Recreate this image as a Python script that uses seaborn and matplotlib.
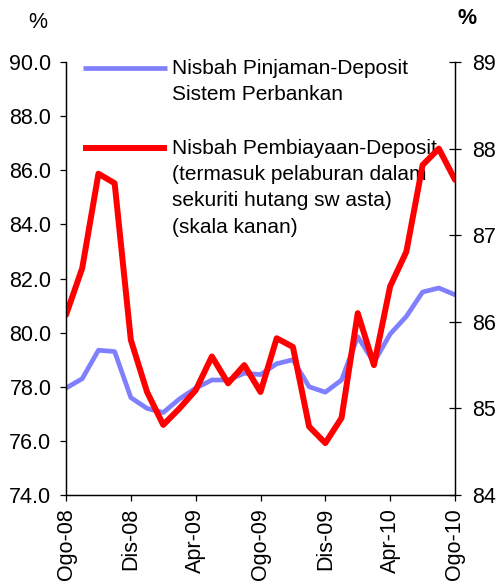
#%% Nisbah pinjaman-deposit vs nisbah pembiayaan-deposit
import numpy as np
import pandas as pd
import seaborn as sns
import matplotlib.pyplot as plt
from matplotlib.legend_handler import HandlerLine2D

#%% Data (bulanan, Ogo-08 hingga Ogo-10)
bulan = ['Ogo-08', 'Sep-08', 'Okt-08', 'Nov-08', 'Dis-08', 'Jan-09', 'Feb-09',
         'Mac-09', 'Apr-09', 'Mei-09', 'Jun-09', 'Jul-09', 'Ogo-09', 'Sep-09',
         'Okt-09', 'Nov-09', 'Dis-09', 'Jan-10', 'Feb-10', 'Mac-10', 'Apr-10',
         'Mei-10', 'Jun-10', 'Jul-10', 'Ogo-10']

# nisbah pinjaman-deposit (skala kiri)
pinjaman = [77.95, 78.3, 79.35, 79.3, 77.6, 77.2, 77.05, 77.55, 77.95, 78.25,
            78.25, 78.5, 78.45, 78.85, 79.0, 78.0, 77.8, 78.25, 79.85, 78.9,
            79.95, 80.6, 81.5, 81.65, 81.4]

# nisbah pembiayaan-deposit (skala kanan)
pembiayaan = [86.08, 86.62, 87.71, 87.6, 85.79, 85.19, 84.81, 85.0, 85.21,
              85.6, 85.29, 85.5, 85.19, 85.81, 85.71, 84.79, 84.6, 84.89,
              86.1, 85.5, 86.41, 86.81, 87.81, 88.0, 87.64]

label_pinjaman = 'Nisbah Pinjaman-Deposit\nSistem Perbankan'
label_pembiayaan = ('Nisbah Pembiayaan-Deposit\n(termasuk pelaburan dalam\n'
                    'sekuriti hutang sw asta)\n(skala kanan)')

df = pd.DataFrame({'x': np.arange(len(bulan)), 'pinjaman': pinjaman,
                   'pembiayaan': pembiayaan})

#%% Gaya
sns.set_style('ticks')
plt.rcParams['font.family'] = ['Liberation Sans', 'DejaVu Sans']
plt.rcParams['text.color'] = 'black'
plt.rcParams['xtick.color'] = 'black'
plt.rcParams['ytick.color'] = 'black'

fig = plt.figure(figsize=(4.99, 5.85), dpi=100)
ax = fig.add_axes([0.1323, 0.1538, 0.7795, 0.7402])
ax2 = ax.twinx()

sns.lineplot(data=df, x='x', y='pinjaman', ax=ax, color='#8080ff',
             linewidth=3.4, label=label_pinjaman, legend=False)
sns.lineplot(data=df, x='x', y='pembiayaan', ax=ax2, color='#ff0000',
             linewidth=4.3, label=label_pembiayaan, legend=False)

#%% Paksi
ax.set_xlim(0, len(bulan) - 1)
ax.set_ylim(74, 90)
ax2.set_ylim(84, 89)
ax.set_yticks(np.arange(74, 90.1, 2))
ax.set_yticklabels([f'{v:.1f}' for v in np.arange(74, 90.1, 2)])
ax2.set_yticks(np.arange(84, 89.1, 1))
ax.set_xticks(df['x'][::4])
ax.set_xticklabels(bulan[::4], rotation=90)
ax.set_xlabel('')
ax.set_ylabel('')
ax2.set_ylabel('')

for a in (ax, ax2):
    a.spines['top'].set_visible(False)
    for s in a.spines.values():
        s.set_linewidth(0.9)
        s.set_color('black')
ax.tick_params(axis='y', direction='out', length=4.5, width=0.9, labelsize=15.5, pad=6)
ax.tick_params(axis='x', direction='out', length=4.5, width=0.9, labelsize=15.5, pad=5)
ax2.tick_params(axis='y', direction='inout', length=9, width=0.9, labelsize=15.5, pad=8)

fig.text(0.076, 0.9615, '%', fontsize=15.5, ha='center', va='center')
fig.text(0.935, 0.969, '%', fontsize=15.5, ha='center', va='center', fontweight='bold')

#%% Legenda - garisan sejajar dengan baris pertama label
fs = 15
jarak_baris = 19.4  # pt antara baris


class HandlerBarisPertama(HandlerLine2D):
    def __init__(self, n_baris, **kw):
        super().__init__(**kw)
        self.naik = (n_baris - 1) / 2 * jarak_baris

    def create_artists(self, legend, orig_handle, xdescent, ydescent, width,
                       height, fontsize, trans):
        arts = super().create_artists(legend, orig_handle, xdescent, ydescent,
                                      width, height, fontsize, trans)
        for a in arts:
            a.set_ydata(np.asarray(a.get_ydata()) + self.naik)
        return arts


h1, l1 = ax.get_legend_handles_labels()
h2, l2 = ax2.get_legend_handles_labels()
peta = {h1[0]: HandlerBarisPertama(l1[0].count('\n') + 1),
        h2[0]: HandlerBarisPertama(l2[0].count('\n') + 1)}
# legenda di paksi kiri supaya garisan merah (paksi kanan) terlukis di atasnya
leg = ax.legend(h1 + h2, l1 + l2, loc='upper left', bbox_to_anchor=(0.044, 1.007),
                frameon=False, fontsize=fs, handlelength=4.04, handletextpad=0.24,
                borderpad=0, borderaxespad=0, labelspacing=1.65, handler_map=peta)
for t in leg.get_texts():
    t.set_linespacing(1.49)
for ln in leg.get_lines():
    ln.set_solid_capstyle('butt')

fig.savefig('out.png', dpi=100)
